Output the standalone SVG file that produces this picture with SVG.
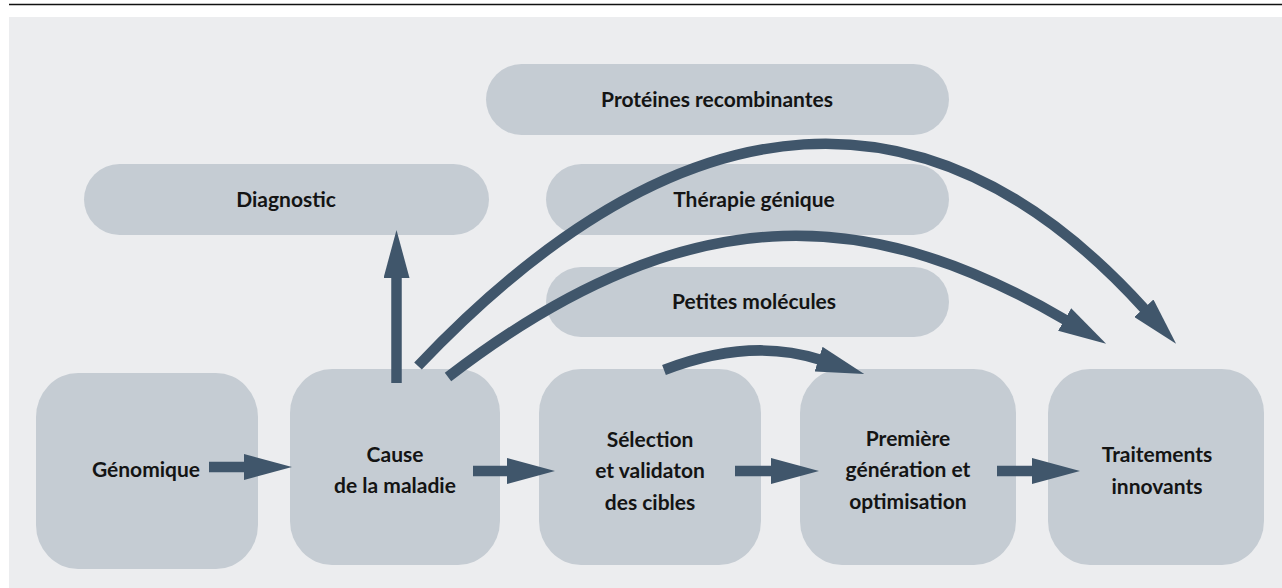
<svg xmlns="http://www.w3.org/2000/svg" width="1282" height="588" viewBox="0 0 1282 588">
  <style>
    .box { fill: #c5ccd3; }
    .lbl { font-family: "Lato", "Open Sans", "Liberation Sans", sans-serif; font-weight: 700; font-size: 21px; fill: #141414; text-anchor: middle; }
    .arr { fill: none; stroke: #40566b; stroke-width: 10.5; stroke-linecap: butt; }
  </style>
  <defs>
    <marker id="head" viewBox="0 -13 48 26" markerWidth="48" markerHeight="26" refX="1" refY="0" orient="auto" markerUnits="userSpaceOnUse">
      <path d="M0,-13 L48,0 L0,13 Z" fill="#40566b"/>
    </marker>
  </defs>

  <line x1="9" y1="4.5" x2="1282" y2="4.5" stroke="#111" stroke-width="1.5"/>
  <rect x="9" y="17" width="1273" height="571" fill="#ecedef"/>

  <g id="node-proteines">
    <rect class="box" x="486" y="64" width="463" height="71" rx="35.5" ry="35.5"/>
    <text class="lbl" x="717" y="107">Protéines recombinantes</text>
  </g>
  <g id="node-diagnostic">
    <rect class="box" x="84" y="164" width="405" height="71" rx="35.5" ry="35.5"/>
    <text class="lbl" x="286" y="207">Diagnostic</text>
  </g>
  <g id="node-therapie">
    <rect class="box" x="546" y="164" width="403" height="71" rx="35.5" ry="35.5"/>
    <text class="lbl" x="754" y="207">Thérapie génique</text>
  </g>
  <g id="node-petites">
    <rect class="box" x="546" y="267" width="403" height="70" rx="35" ry="35"/>
    <text class="lbl" x="754" y="309">Petites molécules</text>
  </g>

  <g id="node-genomique">
    <rect class="box" x="36" y="373" width="222" height="196" rx="42" ry="44"/>
    <text class="lbl" x="146" y="477">Génomique</text>
  </g>
  <g id="node-cause">
    <rect class="box" x="290" y="369" width="210" height="196" rx="42" ry="44"/>
    <text class="lbl" x="395" y="462">Cause</text>
    <text class="lbl" x="395" y="493">de la maladie</text>
  </g>
  <g id="node-selection">
    <rect class="box" x="539" y="369" width="222" height="196" rx="42" ry="44"/>
    <text class="lbl" x="650" y="447">Sélection</text>
    <text class="lbl" x="650" y="478">et validaton</text>
    <text class="lbl" x="650" y="510">des cibles</text>
  </g>
  <g id="node-premiere">
    <rect class="box" x="800" y="369" width="216" height="196" rx="42" ry="44"/>
    <text class="lbl" x="908" y="446">Première</text>
    <text class="lbl" x="908" y="477">génération et</text>
    <text class="lbl" x="908" y="509">optimisation</text>
  </g>
  <g id="node-traitements">
    <rect class="box" x="1048" y="369" width="216" height="196" rx="42" ry="44"/>
    <text class="lbl" x="1157" y="462">Traitements</text>
    <text class="lbl" x="1157" y="494">innovants</text>
  </g>

  <g id="connectors">
    <path class="arr" marker-end="url(#head)" d="M209,467 L245,467"/>
    <path class="arr" marker-end="url(#head)" d="M473,471 L508,471"/>
    <path class="arr" marker-end="url(#head)" d="M735,471 L772,471"/>
    <path class="arr" marker-end="url(#head)" d="M997,471 L1033,471"/>
    <path class="arr" marker-end="url(#head)" d="M396.5,383 L396.5,277"/>
    <path class="arr" marker-end="url(#head)" d="M664,370 Q750,337 819.5,359.5"/>
    <path class="arr" marker-end="url(#head)" d="M448,377 C700,183 883.5,214 1065.5,320"/>
    <path class="arr" marker-end="url(#head)" d="M418,366 C688,82 935,78 1144.5,309"/>
  </g>
</svg>
